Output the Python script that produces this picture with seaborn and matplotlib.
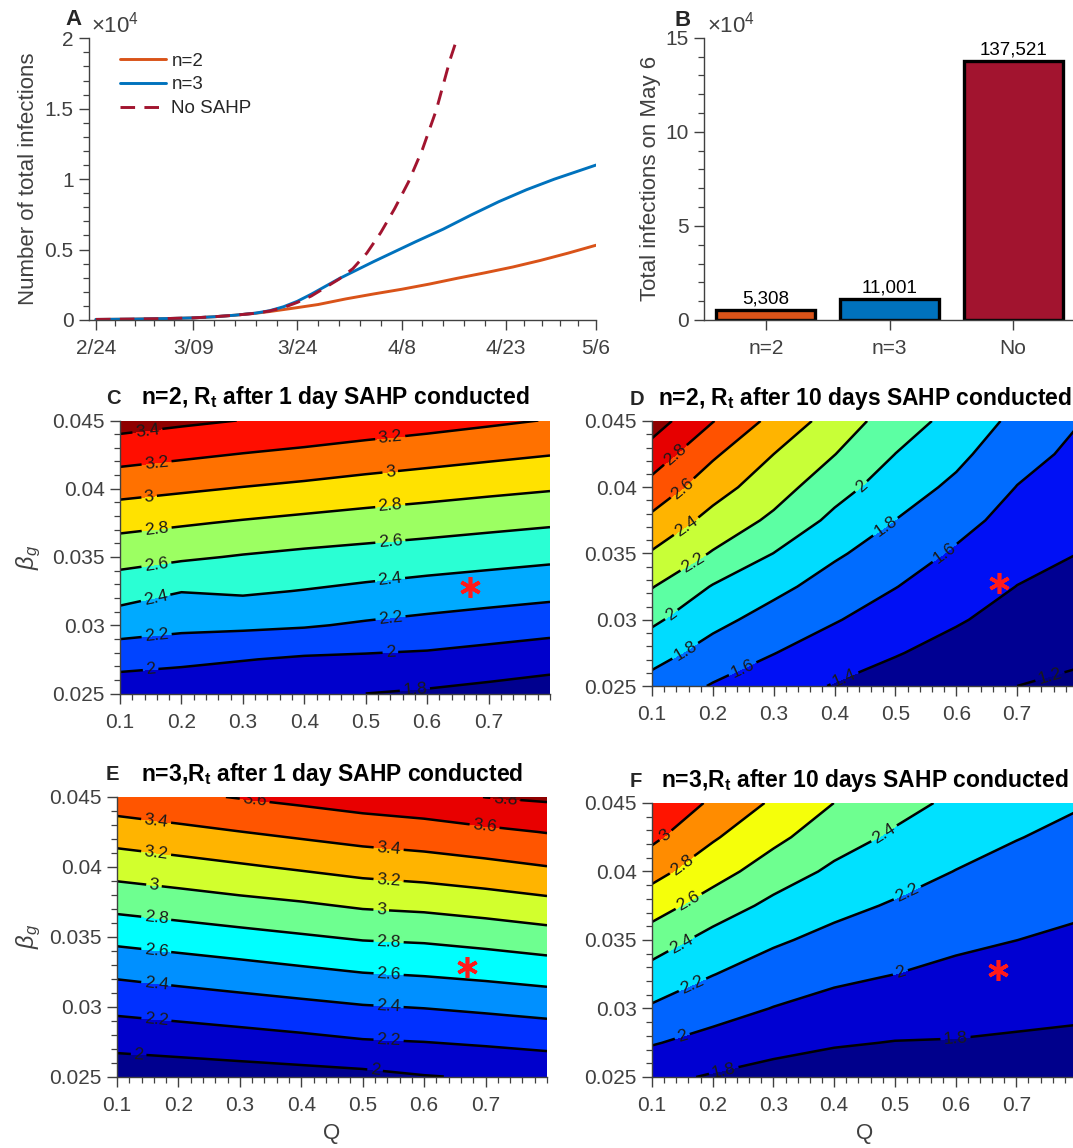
import numpy as np
import pandas as pd
import matplotlib
matplotlib.use("Agg")
import matplotlib.pyplot as plt
import seaborn as sns
from matplotlib.ticker import FixedLocator, MultipleLocator, FuncFormatter

# ---------------- data ----------------
# Panel A: cumulative infections, x = days after 2/24
date_tick_days = [0, 14, 29, 44, 59, 72]
date_tick_labels = ["2/24", "3/09", "3/24", "4/8", "4/23", "5/6"]

n2_days = [0, 5, 10, 14, 17, 20, 23, 25, 27, 29, 32, 36, 40, 44, 48, 52, 56, 60, 64, 68, 72]
n2_cases = [40, 60, 100, 150, 230, 340, 480, 600, 740, 880, 1100, 1500, 1850, 2180, 2550, 2960,
            3350, 3760, 4230, 4750, 5308]

n3_days = [0, 5, 10, 14, 17, 20, 23, 25, 27, 29, 31, 33, 35, 37, 40, 43, 46, 50, 54, 58, 62, 66, 69, 72]
n3_cases = [40, 60, 100, 150, 230, 340, 490, 660, 940, 1330, 1830, 2380, 2930, 3420, 4150, 4850,
            5550, 6450, 7450, 8400, 9250, 10000, 10500, 11001]

nosahp_days = [0, 5, 10, 14, 17, 20, 23, 25, 27, 29, 31, 33, 35, 37, 39, 41, 43, 45, 47, 49, 50, 51, 52, 72]
nosahp_cases = [40, 60, 100, 150, 230, 340, 480, 640, 880, 1250, 1700, 2300, 2900, 3650, 4750, 6200,
                7900, 9800, 12100, 14900, 16700, 18500, 20000, 137521]

series_names = ["n=2", "n=3", "No SAHP"]
series_colors = ["#D95319", "#0072BD", "#A2142F"]

# Panel B: total infections on May 6
bar_categories = ["n=2", "n=3", "No"]
bar_values = [5308, 11001, 137521]

# Panels C-F: R_t over grid of Q (columns) and beta_g (rows)
Q_values = [0.1, 0.2, 0.3, 0.4, 0.5, 0.6, 0.7, 0.8]
beta_values = [0.025, 0.0275, 0.030, 0.0325, 0.035, 0.0375, 0.040, 0.0425, 0.045]

Rt_n2_day1 = [
    [1.870, 1.850, 1.830, 1.815, 1.800, 1.775, 1.740, 1.700],
    [2.076, 2.044, 2.008, 1.975, 1.964, 1.951, 1.917, 1.881],
    [2.285, 2.247, 2.237, 2.217, 2.176, 2.141, 2.105, 2.070],
    [2.485, 2.405, 2.425, 2.393, 2.355, 2.319, 2.290, 2.260],
    [2.669, 2.627, 2.586, 2.553, 2.527, 2.498, 2.468, 2.439],
    [2.859, 2.820, 2.781, 2.745, 2.712, 2.684, 2.653, 2.623],
    [3.066, 3.027, 2.989, 2.954, 2.914, 2.878, 2.844, 2.813],
    [3.275, 3.233, 3.192, 3.156, 3.116, 3.079, 3.041, 3.005],
    [3.481, 3.436, 3.396, 3.356, 3.314, 3.276, 3.234, 3.192],
]
Rt_n2_day10 = [
    [1.726, 1.586, 1.486, 1.388, 1.315, 1.245, 1.200, 1.169],
    [1.879, 1.722, 1.605, 1.501, 1.412, 1.333, 1.266, 1.227],
    [2.036, 1.856, 1.724, 1.613, 1.509, 1.418, 1.331, 1.285],
    [2.209, 1.987, 1.852, 1.718, 1.605, 1.496, 1.397, 1.342],
    [2.382, 2.184, 1.997, 1.827, 1.702, 1.575, 1.463, 1.400],
    [2.554, 2.335, 2.161, 1.952, 1.798, 1.665, 1.529, 1.452],
    [2.733, 2.481, 2.286, 2.077, 1.898, 1.759, 1.595, 1.504],
    [2.914, 2.630, 2.400, 2.204, 1.998, 1.848, 1.670, 1.556],
    [3.094, 2.807, 2.543, 2.315, 2.100, 1.933, 1.750, 1.608],
]
Rt_n3_day1 = [
    [1.874, 1.890, 1.908, 1.927, 1.949, 1.992, 2.017, 2.043],
    [2.062, 2.088, 2.117, 2.149, 2.186, 2.202, 2.228, 2.259],
    [2.250, 2.283, 2.317, 2.352, 2.389, 2.410, 2.441, 2.475],
    [2.442, 2.483, 2.523, 2.565, 2.606, 2.628, 2.658, 2.695],
    [2.659, 2.700, 2.741, 2.782, 2.823, 2.839, 2.876, 2.921],
    [2.876, 2.917, 2.960, 2.998, 3.046, 3.069, 3.111, 3.161],
    [3.087, 3.130, 3.177, 3.225, 3.274, 3.306, 3.349, 3.396],
    [3.299, 3.348, 3.397, 3.444, 3.489, 3.520, 3.561, 3.607],
    [3.520, 3.566, 3.610, 3.652, 3.697, 3.731, 3.803, 3.833],
]
Rt_n3_day10 = [
    [1.848, 1.782, 1.731, 1.700, 1.691, 1.707, 1.701, 1.698],
    [2.013, 1.935, 1.863, 1.817, 1.794, 1.790, 1.776, 1.765],
    [2.177, 2.075, 1.994, 1.933, 1.897, 1.873, 1.851, 1.832],
    [2.328, 2.205, 2.110, 2.043, 2.000, 1.956, 1.926, 1.899],
    [2.502, 2.333, 2.227, 2.146, 2.091, 2.037, 2.001, 1.966],
    [2.688, 2.506, 2.352, 2.253, 2.181, 2.117, 2.070, 2.031],
    [2.864, 2.680, 2.501, 2.364, 2.276, 2.196, 2.138, 2.092],
    [3.042, 2.821, 2.649, 2.481, 2.371, 2.279, 2.207, 2.153],
    [3.180, 2.968, 2.771, 2.599, 2.465, 2.363, 2.275, 2.215],
]

star_Q = 0.67
star_beta = 0.0328

# ---------------- style ----------------
sns.set_theme(style="ticks")
plt.rcParams.update({
    "font.family": ["Liberation Sans", "DejaVu Sans"],
    "mathtext.fontset": "custom",
    "mathtext.rm": "Liberation Sans",
    "mathtext.it": "Liberation Sans:italic",
    "mathtext.bf": "Liberation Sans:bold",
    "axes.linewidth": 1.0,
})

GRAY = "#404040"
W, H = 1073, 1148
fig = plt.figure(figsize=(W / 100, H / 100), dpi=100)


def box(l, r, t, b):
    return [l / W, 1 - b / H, (r - l) / W, (b - t) / H]


def fpos(x, y):
    return x / W, 1 - y / H


def style_axes(ax):
    sns.despine(ax=ax)
    for s in ("left", "bottom"):
        ax.spines[s].set_color(GRAY)
        ax.spines[s].set_linewidth(1.0)
    ax.tick_params(which="major", direction="out", length=7, width=1.0,
                   color=GRAY, labelcolor=GRAY, labelsize=15)
    ax.tick_params(which="minor", direction="out", length=4, width=0.9, color=GRAY)
    ax.tick_params(axis="x", which="major", pad=7)
    ax.tick_params(axis="y", which="major", pad=4)


# ---------------- Panel A ----------------
axA = fig.add_axes(box(89, 596, 38.3, 320))
dfA = pd.concat([
    pd.DataFrame({"day": n2_days, "cases": n2_cases, "scenario": "n=2"}),
    pd.DataFrame({"day": n3_days, "cases": n3_cases, "scenario": "n=3"}),
    pd.DataFrame({"day": nosahp_days, "cases": nosahp_cases, "scenario": "No SAHP"}),
], ignore_index=True)
sns.lineplot(data=dfA, x="day", y="cases", hue="scenario", style="scenario",
             hue_order=series_names, style_order=series_names,
             palette=dict(zip(series_names, series_colors)),
             dashes={"n=2": "", "n=3": "", "No SAHP": (5, 3.2)},
             linewidth=2.1, legend=False, errorbar=None, ax=axA)
axA.set_xlim(-1, 72)
axA.set_ylim(0, 20000)
style_axes(axA)
axA.xaxis.set_major_locator(FixedLocator(date_tick_days))
axA.set_xticklabels(date_tick_labels)
minor_days = np.concatenate([np.linspace(a, b, 6)[1:-1]
                             for a, b in zip(date_tick_days[:-1], date_tick_days[1:])])
axA.xaxis.set_minor_locator(FixedLocator(minor_days))
axA.yaxis.set_major_locator(MultipleLocator(5000))
axA.yaxis.set_minor_locator(MultipleLocator(1000))
axA.yaxis.set_major_formatter(FuncFormatter(lambda v, p: f"{v / 1e4:g}"))
axA.set_xlabel("")
axA.set_ylabel("Number of total infections", fontsize=16, color=GRAY)
axA.yaxis.set_label_coords(-0.098, 0.5)
handles = axA.lines[:3]
axA.legend(handles, series_names, loc="upper left", bbox_to_anchor=(0.061, 0.950),
           frameon=False, fontsize=13.5, handlelength=2.45, handletextpad=0.3,
           labelspacing=0.36, borderpad=0, borderaxespad=0)
fig.text(*fpos(73, 25), "A", ha="center", va="baseline", fontsize=16, fontweight="bold")
fig.text(*fpos(91, 33), r"$\times10^{4}$", ha="left", va="baseline", fontsize=16, color=GRAY)

# ---------------- Panel B ----------------
axB = fig.add_axes(box(704, 1075, 37.7, 320))
sns.barplot(x=bar_categories, y=bar_values, hue=bar_categories, palette=series_colors,
            legend=False, width=0.8, saturation=1, edgecolor="black", linewidth=2.4, ax=axB)
axB.set_xlim(-0.5, 2.5)
axB.set_ylim(0, 150000)
style_axes(axB)
axB.yaxis.set_major_locator(MultipleLocator(50000))
axB.yaxis.set_minor_locator(MultipleLocator(10000))
axB.yaxis.set_major_formatter(FuncFormatter(lambda v, p: f"{v / 1e4:g}"))
axB.set_ylabel("Total infections on May 6", fontsize=16, color=GRAY)
axB.yaxis.set_label_coords(-0.116, 0.5)
for cont, val in zip(axB.containers, bar_values):
    axB.bar_label(cont, labels=[f"{val:,}"], padding=2, fontsize=13.5, color="black")
fig.text(*fpos(683, 26), "B", ha="center", va="baseline", fontsize=16, fontweight="bold")
fig.text(*fpos(707, 33), r"$\times10^{4}$", ha="left", va="baseline", fontsize=16, color=GRAY)

# ---------------- Contour panels ----------------
QQ, BB = np.meshgrid(Q_values, beta_values)

panels = [
    dict(letter="C", title=r"n=2, $\mathbf{R_t}$ after 1 day SAHP conducted",
         Z=Rt_n2_day1, box=(120, 550, 420.5, 693.5), letter_xy=(113.5, 404),
         fill_levels=np.round(np.arange(1.6, 3.61, 0.2), 1),
         colors=["#00008F", "#0000CC", "#0044FF", "#00AAFF", "#2AFFD4", "#9CFF62",
                 "#FFE200", "#FF7100", "#FF0E00", "#8F0000"],
         line_levels=np.round(np.arange(1.8, 3.41, 0.2), 1),
         labels=[(0.145, .0441), (0.16, .0417), (0.148, .0392), (0.16, .0369), (0.16, .0342),
                 (0.16, .0316), (0.16, .0291), (0.15, .0267), (0.54, .0437), (0.54, .0412),
                 (0.54, .0387), (0.54, .0362), (0.54, .0332), (0.54, .0307), (0.54, .0282),
                 (0.58, .0253)],
         ylabel=True, xlabel=False),
    dict(letter="D", title=r"n=2, $\mathbf{R_t}$ after 10 days SAHP conducted",
         Z=Rt_n2_day10, box=(652, 1078, 421, 686), letter_xy=(637, 405),
         fill_levels=np.round(np.arange(1.0, 3.21, 0.2), 1),
         colors=["#000080", "#000092", "#0010F5", "#006CFF", "#00DCFF", "#5CFFA3",
                 "#C8FF37", "#FFB400", "#FF5200", "#E60000", "#8F0000"],
         line_levels=np.round(np.arange(1.2, 3.01, 0.2), 1),
         labels=[(0.143, .0422), (0.149, .0400), (0.157, .0370), (0.168, .0343), (0.135, .0302),
                 (0.154, .0277), (0.249, .0263), (0.417, .0255), (0.445, .0400), (0.484, .0370),
                 (0.582, .0350), (0.754, .0257)],
         ylabel=False, xlabel=False),
    dict(letter="E", title=r"n=3,$\mathbf{R_t}$ after 1 day SAHP conducted",
         Z=Rt_n3_day1, box=(117, 547, 797, 1076.5), letter_xy=(112, 780),
         fill_levels=np.round(np.arange(1.8, 4.01, 0.2), 1),
         colors=["#00008F", "#0000CC", "#0030FF", "#0090FF", "#00FFFF", "#6EFF90",
                 "#D2FF2D", "#FFB400", "#FF5500", "#E80000", "#8F0000"],
         line_levels=np.round(np.arange(2.0, 3.81, 0.2), 1),
         labels=[(0.164, .0434), (0.164, .0411), (0.16, .0386), (0.164, .0364), (0.164, .0341),
                 (0.164, .0317), (0.164, .0290), (0.135, .0265), (0.542, .0412), (0.542, .0390),
                 (0.53, .0368), (0.542, .0345), (0.542, .0322), (0.542, .0300), (0.542, .0275),
                 (0.52, .0254), (0.324, .0447), (0.698, .0428), (0.732, .0448)],
         ylabel=True, xlabel=True),
    dict(letter="F", title=r"n=3,$\mathbf{R_t}$ after 10 days SAHP conducted",
         Z=Rt_n3_day10, box=(652, 1077, 803, 1077), letter_xy=(636, 787),
         fill_levels=np.round(np.arange(1.6, 3.21, 0.2), 1),
         colors=["#00008C", "#0000D2", "#0064FF", "#00E1FF", "#6EFF90", "#F5FF0A",
                 "#FF8C00", "#FF1400"],
         line_levels=np.round(np.arange(1.8, 3.01, 0.2), 1),
         labels=[(0.125, .0425), (0.151, .0404), (0.162, .0377), (0.145, .0350), (0.482, .0428),
                 (0.167, .0317), (0.521, .0384), (0.151, .0278), (0.51, .0325), (0.218, .0255),
                 (0.60, .0278)],
         ylabel=False, xlabel=True),
]

for p in panels:
    ax = fig.add_axes(box(*p["box"]))
    Z = np.array(p["Z"])
    ax.contourf(QQ, BB, Z, levels=p["fill_levels"], colors=p["colors"])
    cs = ax.contour(QQ, BB, Z, levels=p["line_levels"], colors="black", linewidths=1.8)
    ax.clabel(cs, cs.levels, manual=p["labels"], fmt=lambda v: f"{v:g}", fontsize=12.5,
              inline=True, inline_spacing=3, colors="#1a1a1a")
    ax.plot([star_Q], [star_beta], marker=(6, 2, 0), color="#FF1A1A", markersize=15,
            markeredgewidth=2.6, linestyle="none", zorder=6)
    ax.set_xlim(0.1, 0.8)
    ax.set_ylim(0.025, 0.045)
    style_axes(ax)
    ax.xaxis.set_major_locator(FixedLocator([0.1, 0.2, 0.3, 0.4, 0.5, 0.6, 0.7]))
    ax.xaxis.set_minor_locator(MultipleLocator(0.02))
    ax.yaxis.set_major_locator(MultipleLocator(0.005))
    ax.yaxis.set_minor_locator(MultipleLocator(0.001))
    ax.xaxis.set_major_formatter(FuncFormatter(lambda v, q: f"{v:g}"))
    ax.yaxis.set_major_formatter(FuncFormatter(lambda v, q: f"{round(v, 4):g}"))
    ax.annotate(p["title"], xy=(0.5, 1.0), xycoords="axes fraction", xytext=(0, 16.5),
                textcoords="offset pixels", ha="center", va="baseline",
                fontsize=16.5, fontweight="bold", color="black")
    fig.text(*fpos(*p["letter_xy"]), p["letter"], ha="center", va="baseline",
             fontsize=14.5, fontweight="bold")
    if p["ylabel"]:
        ax.set_ylabel(r"$\beta_g$", fontsize=17, color=GRAY)
        l, r, t, b = p["box"]
        ax.yaxis.set_label_coords((43 - l) / (r - l), 0.5)
    if p["xlabel"]:
        ax.set_xlabel("Q", fontsize=16, color=GRAY)
        l, r, t, b = p["box"]
        ax.xaxis.set_label_coords(0.5, -(1123 - b) / (b - t))

fig.savefig("out.png", dpi=100)
